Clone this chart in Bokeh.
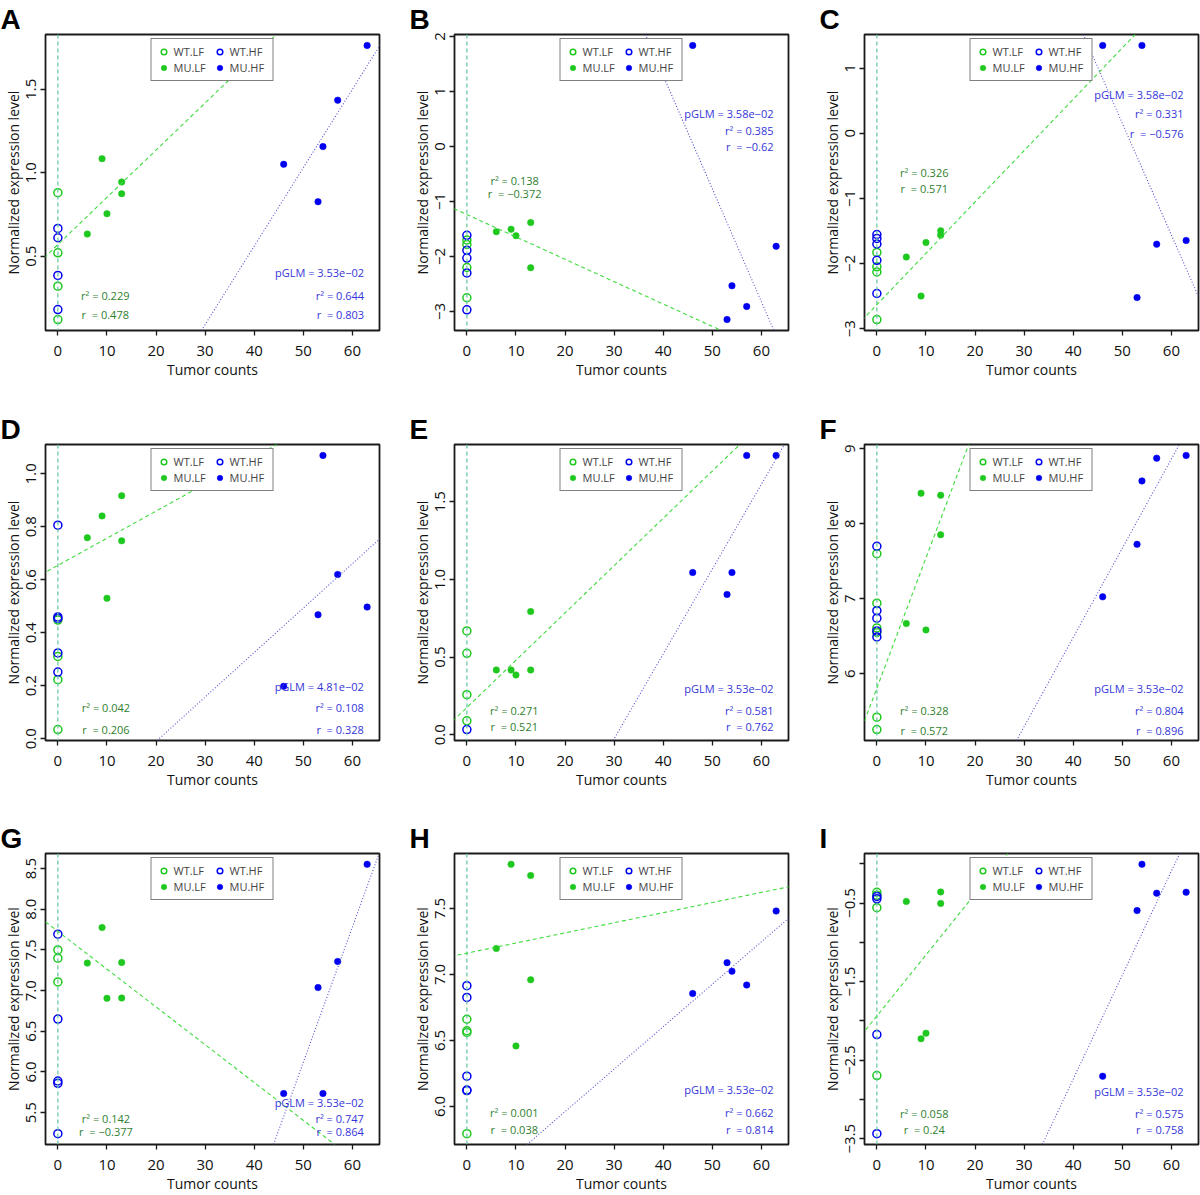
import numpy as np
from bokeh.plotting import figure
from bokeh.layouts import column, row
from bokeh.models import Range1d, FixedTicker, Label, Legend, LegendItem, Slope, Span
from bokeh.embed import file_html
from bokeh.resources import INLINE

# ---------------- data ----------------
panel_letters = ["A", "B", "C", "D", "E", "F", "G", "H", "I"]
x_ticks = [0, 10, 20, 30, 40, 50, 60]
x_tick_labels = ["0", "10", "20", "30", "40", "50", "60"]

tumor_wt = 0
tumor_mu_lf = [6, 9, 10, 13, 13]
tumor_mu_hf = [46, 53, 54, 57, 63]

A_wt_lf = [0.88, 0.52, 0.32, 0.12]
A_wt_hf = [0.666, 0.61, 0.384, 0.18]
A_mu_lf = [0.632, 1.084, 0.754, 0.944, 0.874]
A_mu_hf = [1.05, 0.826, 1.156, 1.434, 1.762]

B_wt_lf = [-1.70, -1.78, -2.20, -2.75]
B_wt_hf = [-1.615, -1.888, -2.028, -2.30, -2.97]
B_mu_lf = [-1.548, -1.505, -1.621, -1.384, -2.204]
B_mu_hf = [1.836, -3.146, -2.532, -2.909, -1.815]

C_wt_lf = [-1.83, -2.05, -2.13, -2.86]
C_wt_hf = [-1.554, -1.615, -1.70, -1.95, -2.46]
C_mu_lf = [-1.90, -2.50, -1.677, -1.497, -1.564]
C_mu_hf = [1.349, -2.523, 1.349, -1.703, -1.646]

D_wt_lf = [0.448, 0.311, 0.223, 0.035]
D_wt_hf = [0.806, 0.46, 0.454, 0.324, 0.252]
D_mu_lf = [0.759, 0.841, 0.530, 0.917, 0.747]
D_mu_hf = [0.198, 0.468, 1.069, 0.620, 0.497]

E_wt_lf = [0.668, 0.524, 0.258, 0.090]
E_wt_hf = [0.034]
E_mu_lf = [0.417, 0.417, 0.385, 0.793, 0.417]
E_mu_hf = [1.044, 0.903, 1.044, 1.797, 1.797]

F_wt_lf = [7.60, 6.94, 6.61, 6.55, 5.42, 5.255]
F_wt_hf = [7.70, 6.84, 6.74, 6.57, 6.49]
F_mu_lf = [6.668, 8.407, 6.584, 8.38, 7.854]
F_mu_hf = [7.025, 7.725, 8.572, 8.875, 8.911]

G_wt_lf = [7.50, 7.399, 7.107]
G_wt_hf = [7.694, 6.65, 5.889, 5.86, 5.241]
G_mu_lf = [7.338, 7.775, 6.905, 7.346, 6.909]
G_mu_hf = [5.735, 7.038, 5.735, 7.358, 8.553]

H_wt_lf = [6.66, 6.573, 6.56, 5.793]
H_wt_hf = [6.914, 6.825, 6.229, 6.124, 6.12]
H_mu_lf = [7.196, 7.834, 6.458, 7.749, 6.959]
H_mu_hf = [6.855, 7.089, 7.024, 6.919, 7.48]

I_wt_lf = [-0.362, -0.40, -0.559, -2.697]
I_wt_hf = [-0.416, -0.446, -2.174, -3.437]
I_mu_lf = [-0.479, -2.228, -2.157, -0.358, -0.504]
I_mu_hf = [-2.705, -0.596, -0.006, -0.374, -0.362]

wt_lf = [A_wt_lf, B_wt_lf, C_wt_lf, D_wt_lf, E_wt_lf, F_wt_lf, G_wt_lf, H_wt_lf, I_wt_lf]
wt_hf = [A_wt_hf, B_wt_hf, C_wt_hf, D_wt_hf, E_wt_hf, F_wt_hf, G_wt_hf, H_wt_hf, I_wt_hf]
mu_lf = [A_mu_lf, B_mu_lf, C_mu_lf, D_mu_lf, E_mu_lf, F_mu_lf, G_mu_lf, H_mu_lf, I_mu_lf]
mu_hf = [A_mu_hf, B_mu_hf, C_mu_hf, D_mu_hf, E_mu_hf, F_mu_hf, G_mu_hf, H_mu_hf, I_mu_hf]

y_ticks = [
    [0.5, 1.0, 1.5],
    [-3, -2, -1, 0, 1, 2],
    [-3, -2, -1, 0, 1],
    [0.0, 0.2, 0.4, 0.6, 0.8, 1.0],
    [0.0, 0.5, 1.0, 1.5],
    [6, 7, 8, 9],
    [5.5, 6.0, 6.5, 7.0, 7.5, 8.0, 8.5],
    [6.0, 6.5, 7.0, 7.5],
    [0.0, -0.5, -1.0, -1.5, -2.0, -2.5, -3.0, -3.5],
]
y_tick_labels = [
    ["0.5", "1.0", "1.5"],
    ["\u22123", "\u22122", "\u22121", "0", "1", "2"],
    ["\u22123", "\u22122", "\u22121", "0", "1"],
    ["0.0", "0.2", "0.4", "0.6", "0.8", "1.0"],
    ["0.0", "0.5", "1.0", "1.5"],
    ["6", "7", "8", "9"],
    ["5.5", "6.0", "6.5", "7.0", "7.5", "8.0", "8.5"],
    ["6.0", "6.5", "7.0", "7.5"],
    ["", "\u22120.5", "", "\u22121.5", "", "\u22122.5", "", "\u22123.5"],
]

lf_r2 = ["0.229", "0.138", "0.326", "0.042", "0.271", "0.328", "0.142", "0.001", "0.058"]
lf_r = ["0.478", "\u22120.372", "0.571", "0.206", "0.521", "0.572", "\u22120.377", "0.038", "0.24"]
hf_pglm = ["3.53e\u221202", "3.58e\u221202", "3.58e\u221202", "4.81e\u221202", "3.53e\u221202",
           "3.53e\u221202", "3.53e\u221202", "3.53e\u221202", "3.53e\u221202"]
hf_r2 = ["0.644", "0.385", "0.331", "0.108", "0.581", "0.804", "0.747", "0.662", "0.575"]
hf_r = ["0.803", "\u22120.62", "\u22120.576", "0.328", "0.762", "0.896", "0.864", "0.814", "0.758"]

# ---------------- layout / style (not data) ----------------
# green text block: (center fx, fy of r2 line, fy of r line); blue: (right fx, fy pGLM, fy r2, fy r)
green_pos = [(0.179, 0.118, 0.055), (0.18, 0.507, 0.462), (0.179, 0.533, 0.479),
             (0.181, 0.11, 0.037), (0.179, 0.102, 0.048), (0.179, 0.102, 0.035),
             (0.181, 0.09, 0.043), (0.179, 0.11, 0.052), (0.179, 0.108, 0.052)]
blue_pos = [(0.954, 0.196, 0.118, 0.055), (0.955, 0.733, 0.676, 0.620), (0.955, 0.798, 0.733, 0.665),
            (0.953, 0.182, 0.11, 0.037), (0.955, 0.176, 0.102, 0.048), (0.955, 0.176, 0.102, 0.035),
            (0.953, 0.146, 0.09, 0.043), (0.955, 0.189, 0.11, 0.052), (0.955, 0.182, 0.108, 0.052)]

GREEN = "#1fc81f"
BLUE = "#0000f0"
GREEN_LINE = "#3fdc3f"
BLUE_LINE = "#5050d0"
GREEN_TXT = "#2f7f2f"
BLUE_TXT = "#3535d8"
VLINE = "#6ccaa4"
FONT = "Open Sans"

FW = 334
col_left = [45, 45, 46]
col_right = [30, 30, 2]
row_fh = [296, 296, 294]
row_top = [34, 34, 34]
row_bottom = [80, 79, 48]
letter_offset = [-45, -45, -45]


def make_panel(i):
    c, r = i % 3, i // 3
    FH = row_fh[r]
    wl, wh, ml, mh = wt_lf[i], wt_hf[i], mu_lf[i], mu_hf[i]
    ally = wl + wh + ml + mh
    ylo, yhi = min(ally), max(ally)
    ypad = 0.04 * (yhi - ylo)
    allx = [tumor_wt] + tumor_mu_lf + tumor_mu_hf
    xlo, xhi = min(allx), max(allx)
    xpad = 0.04 * (xhi - xlo)
    x0, x1 = xlo - xpad, xhi + xpad
    y0, y1 = ylo - ypad, yhi + ypad

    p = figure(width=col_left[c] + FW + col_right[c], height=row_top[r] + FH + row_bottom[r],
               x_range=Range1d(x0, x1), y_range=Range1d(y0, y1),
               output_backend="svg", toolbar_location=None,
               min_border_left=col_left[c], min_border_right=col_right[c],
               min_border_top=row_top[r], min_border_bottom=row_bottom[r])
    p.xgrid.visible = False
    p.ygrid.visible = False
    p.outline_line_color = "#1a1a1a"
    p.outline_line_width = 1.8
    p.background_fill_color = "white"
    p.border_fill_color = "white"

    p.title.text = panel_letters[i]
    p.title.align = "left"
    p.title.offset = letter_offset[c]
    p.title.standoff = 0
    p.title.text_font = "Liberation Sans"
    p.title.text_font_style = "bold"
    p.title.text_font_size = "28px"
    p.title.text_color = "black"

    for ax in p.axis:
        ax.axis_line_color = None
        ax.major_tick_out = 5
        ax.major_tick_in = 0
        ax.minor_tick_out = 0
        ax.minor_tick_in = 0
        ax.major_tick_line_color = "#1a1a1a"
        ax.major_tick_line_width = 1.3
        ax.major_label_text_font = FONT
        ax.major_label_text_font_size = "15px"
        ax.major_label_text_color = "#111111"
        ax.axis_label_text_font = FONT
        ax.axis_label_text_font_size = "14px"
        ax.axis_label_text_font_style = "normal"
        ax.axis_label_text_color = "#111111"

    p.xaxis.axis_label = "Tumor counts"
    p.xaxis.ticker = FixedTicker(ticks=x_ticks)
    p.xaxis.major_label_overrides = {t: s for t, s in zip(x_ticks, x_tick_labels)}
    p.xaxis.major_label_standoff = 10
    p.xaxis.axis_label_standoff = 1

    p.yaxis.axis_label = "Normalized expression level"
    p.yaxis.ticker = FixedTicker(ticks=y_ticks[i])
    p.yaxis.major_label_overrides = {t: s for t, s in zip(y_ticks[i], y_tick_labels[i])}
    p.yaxis.major_label_orientation = "vertical"
    p.yaxis.major_label_standoff = 4
    p.yaxis.axis_label_standoff = 1

    # points
    r_wl = p.scatter([tumor_wt] * len(wl), wl, marker="circle", size=8,
                     fill_color=None, line_color=GREEN, line_width=1.5)
    r_wh = p.scatter([tumor_wt] * len(wh), wh, marker="circle", size=8,
                     fill_color=None, line_color=BLUE, line_width=1.5)
    r_ml = p.scatter(tumor_mu_lf, ml, marker="circle", size=6.5,
                     fill_color=GREEN, line_color=GREEN, line_width=0.5)
    r_mh = p.scatter(tumor_mu_hf, mh, marker="circle", size=6.5,
                     fill_color=BLUE, line_color=BLUE, line_width=0.5)

    legend = Legend(items=[LegendItem(label="WT.LF", renderers=[r_wl]),
                           LegendItem(label="MU.LF", renderers=[r_ml]),
                           LegendItem(label="WT.HF", renderers=[r_wh]),
                           LegendItem(label="MU.HF", renderers=[r_mh])],
                    location="top_center", orientation="vertical", ncols=2,
                    label_text_font=FONT, label_text_font_size="11px",
                    label_height=15, glyph_height=15, glyph_width=14, label_width=38,
                    label_standoff=3, spacing=1, padding=5, margin=4,
                    border_line_color="black", border_line_width=1.6,
                    background_fill_color="white", background_fill_alpha=1.0)
    p.add_layout(legend, "center")

    # regression lines (least-squares fit on the mutant groups)
    m_lf, b_lf = np.polyfit(tumor_mu_lf, ml, 1)
    m_hf, b_hf = np.polyfit(tumor_mu_hf, mh, 1)
    p.add_layout(Span(location=tumor_wt, dimension="height", line_color=VLINE,
                      line_dash="4 3", line_width=1.3))
    p.add_layout(Slope(gradient=m_lf, y_intercept=b_lf, line_color=GREEN_LINE,
                       line_dash="4 3", line_width=1.1))
    p.add_layout(Slope(gradient=m_hf, y_intercept=b_hf, line_color=BLUE_LINE,
                       line_dash="1 2", line_width=1.1))

    def dx(f):
        return x0 + f * (x1 - x0)

    def dy(f):
        return y0 + f * (y1 - y0)

    gx, gy1, gy2 = green_pos[i]
    for t, fy in ((f"r\u00b2 = {lf_r2[i]}", gy1), (f"r\u00a0 = {lf_r[i]}", gy2)):
        p.add_layout(Label(x=dx(gx), y=dy(fy), text=t, text_align="center",
                           text_baseline="middle", text_font=FONT,
                           text_font_size="11px", text_color=GREEN_TXT))
    bx, by0, by1, by2 = blue_pos[i]
    for t, fy in ((f"pGLM = {hf_pglm[i]}", by0), (f"r\u00b2 = {hf_r2[i]}", by1),
                  (f"r\u00a0 = {hf_r[i]}", by2)):
        p.add_layout(Label(x=dx(bx), y=dy(fy), text=t, text_align="right",
                           text_baseline="middle", text_font=FONT,
                           text_font_size="11px", text_color=BLUE_TXT))
    return p


panels = [make_panel(i) for i in range(9)]
layout = column(row(*panels[0:3]), row(*panels[3:6]), row(*panels[6:9]))

html = file_html(layout, INLINE)
open("out.html", "w").write(html)
